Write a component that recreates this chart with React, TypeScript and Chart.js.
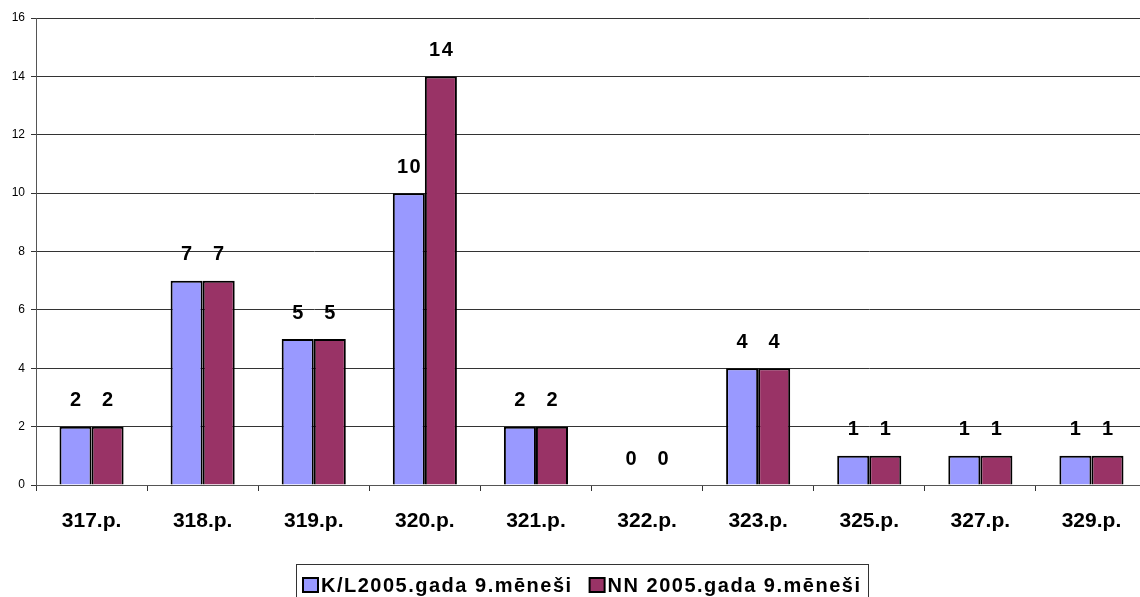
import React, { useEffect, useRef } from 'react';
import { Chart, registerables } from 'chart.js';

Chart.register(...registerables);

const categories = ['317.p.', '318.p.', '319.p.', '320.p.', '321.p.', '322.p.', '323.p.', '325.p.', '327.p.', '329.p.'];
const seriesKL = [2, 7, 5, 10, 2, 0, 4, 1, 1, 1];
const seriesNN = [2, 7, 5, 14, 2, 0, 4, 1, 1, 1];
const seriesNames = ['K/L2005.gada 9.mēneši', 'NN 2005.gada 9.mēneši'];
const seriesColors = ['#9999FF', '#993366'];
const yTickValues = [0, 2, 4, 6, 8, 10, 12, 14, 16];

const FONT = 'Arial, "Liberation Sans", sans-serif';

const dataLabelPlugin = {
  id: 'dataLabels',
  afterDatasetsDraw(chart: any) {
    const ctx = chart.ctx;
    ctx.save();
    ctx.font = `bold 20px ${FONT}`;
    (ctx as any).letterSpacing = '1.5px';
    ctx.fillStyle = '#000';
    ctx.textAlign = 'center';
    ctx.textBaseline = 'middle';
    chart.data.datasets.forEach((ds: any, i: number) => {
      const meta = chart.getDatasetMeta(i);
      meta.data.forEach((el: any, j: number) => {
        ctx.fillText(String(ds.data[j]), el.x + 0.75, el.y - 26);
      });
    });
    ctx.restore();
  },
};

const boxedLegendPlugin = {
  id: 'boxedLegend',
  afterDraw(chart: any) {
    const ctx = chart.ctx;
    ctx.save();
    ctx.font = `bold 20px ${FONT}`;
    (ctx as any).letterSpacing = '1.5px';
    const marker = 15;
    const gapAfterMarker = 3;
    const gapBetween = 17;
    const pad = 7;
    const widths = seriesNames.map((n) => ctx.measureText(n).width);
    const total = pad * 2 + widths.reduce((a, w) => a + marker + gapAfterMarker + w, 0) + gapBetween * (seriesNames.length - 1);
    const left = Math.round(582 - total / 2);
    const top = 564;
    ctx.strokeStyle = '#333';
    ctx.lineWidth = 1;
    ctx.strokeRect(left + 0.5, top + 0.5, Math.round(total), 45);
    let x = left + pad;
    const midY = 585;
    seriesNames.forEach((n, i) => {
      ctx.fillStyle = seriesColors[i];
      ctx.fillRect(x, midY - 7, marker, 14);
      ctx.strokeStyle = '#000';
      ctx.lineWidth = 2;
      ctx.strokeRect(x, midY - 7, marker, 14);
      x += marker + gapAfterMarker;
      ctx.fillStyle = '#000';
      ctx.textBaseline = 'middle';
      ctx.textAlign = 'left';
      ctx.fillText(n, x, midY + 1);
      x += widths[i] + gapBetween;
    });
    ctx.restore();
  },
};

export default function App() {
  const ref = useRef<HTMLCanvasElement>(null);
  useEffect(() => {
    document.body.style.margin = '0';
    const c = ref.current!;
    const chart = new Chart(c, {
      type: 'bar',
      data: {
        labels: categories,
        datasets: [
          { label: seriesNames[0], data: seriesKL, backgroundColor: seriesColors[0], borderColor: '#000', borderWidth: 2 },
          { label: seriesNames[1], data: seriesNN, backgroundColor: seriesColors[1], borderColor: '#000', borderWidth: 2 },
        ],
      },
      options: {
        responsive: false,
        animation: false,
        devicePixelRatio: 1,
        layout: { padding: { top: 18, right: 0, bottom: 52, left: 0 } },
        datasets: { bar: { categoryPercentage: 0.577, barPercentage: 1.0 } },
        plugins: { legend: { display: false }, tooltip: { enabled: false } },
        scales: {
          x: {
            grid: { offset: true, drawOnChartArea: false, drawTicks: true, tickLength: 6, color: '#333' },
            border: { display: true, color: '#555', width: 1 },
            ticks: { font: { family: FONT, size: 21, weight: 'bold' }, color: '#000', padding: 18, maxRotation: 0 },
            afterFit: (s: any) => { s.height = 60; },
          },
          y: {
            min: 0,
            max: 16,
            afterBuildTicks: (s: any) => { s.ticks = yTickValues.map((v) => ({ value: v })); },
            ticks: { font: { family: FONT, size: 12 }, color: '#000', padding: 6 },
            grid: { color: '#333', tickLength: 5 },
            border: { display: true, color: '#555', width: 1 },
            afterFit: (s: any) => { s.width = 36; },
          },
        },
      },
      plugins: [dataLabelPlugin, boxedLegendPlugin],
    });
    return () => chart.destroy();
  }, []);
  return (
    <div style={{ position: 'absolute', left: 0, top: 0, width: 1140, height: 597, overflow: 'hidden', background: '#fff' }}>
      <canvas ref={ref} width={1147} height={597} style={{ display: 'block' }} />
    </div>
  );
}
